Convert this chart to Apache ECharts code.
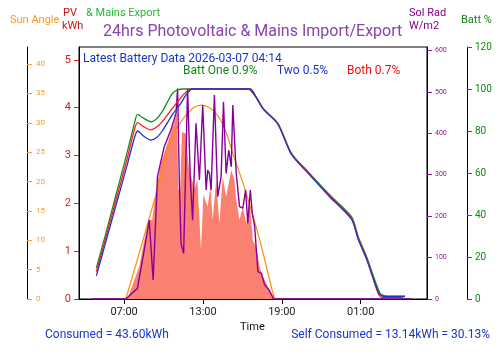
<!DOCTYPE html>
<html>
<head>
<meta charset="utf-8">
<script src="https://cdn.jsdelivr.net/npm/echarts@6/dist/echarts.min.js"></script>
<style>
  html, body { margin: 0; padding: 0; background: #fff; }
  #chart { width: 500px; height: 353px; }
</style>
</head>
<body>
<div id="chart"></div>
<script>
// time is hours from midnight of the first day (25 = 01:00 next day)
var timeTicks = [7, 13, 19, 25];
var pvTicks = [0, 1, 2, 3, 4, 5];
var sunTicks = [0, 5, 10, 15, 20, 25, 30, 35, 40];
var radTicks = [0, 100, 200, 300, 400, 500, 600];
var battTicks = [0, 20, 40, 60, 80, 100, 120];

// PV output, kW (salmon area)
var pvPower = [
  [7.25, 0], [8.15, 0.68], [8.53, 1.23], [8.91, 1.65], [9.14, 1.65], [9.37, 2.18],
  [9.8, 2.84], [10.31, 3.26], [10.82, 3.7], [11.02, 3.9], [11.12, 2.3], [11.26, 2.25],
  [11.4, 3.5], [11.7, 3.45], [11.9, 2.8], [12.04, 2.65], [12.34, 2.3], [12.57, 2.5],
  [12.85, 1.03], [13.03, 2.18], [13.36, 1.93], [13.56, 2.38], [13.74, 1.65], [14.0, 2.49],
  [14.25, 1.58], [14.5, 2.56], [14.76, 2.14], [15.15, 2.7], [15.4, 2.49], [15.53, 2.07],
  [15.78, 1.65], [16.03, 1.93], [16.29, 1.58], [16.54, 2.14], [16.79, 1.23], [17.05, 1.09],
  [17.31, 0.68], [17.56, 0.47], [17.94, 0.26], [18.32, 0.05], [18.58, 0]
];

// solar radiation, W/m2
var solRad = [
  [4.56, 0], [7.13, 0], [8.02, 26], [8.53, 118], [8.91, 190], [9.21, 46], [9.54, 296],
  [10.05, 367], [10.56, 408], [10.95, 448], [11.07, 508], [11.2, 287], [11.33, 134],
  [11.53, 110], [11.83, 508], [12.04, 287], [12.21, 190], [12.47, 424], [12.73, 287],
  [12.98, 468], [13.24, 263], [13.36, 311], [13.49, 303], [13.62, 263], [13.87, 492],
  [14.12, 247], [14.38, 295], [14.56, 475], [14.76, 303], [14.96, 359], [15.15, 319],
  [15.27, 468], [15.53, 303], [15.78, 223], [16.03, 219], [16.24, 263], [16.41, 183],
  [16.6, 263], [16.75, 207], [16.93, 175], [17.18, 66], [17.44, 62], [17.69, 34],
  [18.02, 22], [18.38, 0], [28.83, 0]
];

// sun elevation, degrees
var sunAngle = [
  [7.13, 0], [8.15, 7.8], [9.16, 15.7], [9.67, 19.8], [10.05, 23.7], [10.82, 28.2],
  [11.83, 31.6], [12.85, 33.0], [13.87, 31.9], [14.63, 29.1], [15.27, 24.8],
  [16.29, 18.0], [17.31, 10.1], [18.32, 1.0], [18.5, 0]
];

// battery state of charge, %
var battOne = [
  [4.89, 14.8], [5.6, 31], [6.4, 50], [7.2, 69], [7.8, 84], [8.02, 87.9], [8.5, 86],
  [9.04, 84.4], [9.5, 86], [9.9, 89.2], [10.4, 95], [10.69, 98], [11.07, 99.6],
  [11.5, 100], [16.41, 100], [16.92, 97.1], [17.56, 90.8], [18.7, 83.7], [19.73, 69.4],
  [20.99, 60.6], [22.65, 49.5], [24.3, 39.2], [24.81, 29.7], [25.45, 20.1],
  [26.47, 2.7], [26.98, 1.4], [28.37, 1.4]
];
var battTwo = [
  [4.89, 11], [5.6, 27], [6.4, 45], [7.2, 63], [7.8, 77], [8.02, 80], [8.5, 77.5],
  [9.04, 75.7], [9.5, 77], [9.9, 80], [10.7, 88], [11.3, 93], [11.8, 98], [12.2, 100],
  [16.6, 100], [17.0, 96.6], [17.6, 90.3], [18.7, 83.2], [19.73, 68.8], [21.0, 59.8],
  [22.65, 48.6], [24.3, 37.9], [24.81, 28.3], [25.45, 18.8], [26.4, 2.5], [26.8, 1.2],
  [28.37, 1.2]
];
var battBoth = [
  [4.89, 13], [5.6, 29], [6.4, 47.5], [7.2, 66], [7.8, 81], [8.02, 84], [8.5, 82],
  [9.04, 80.5], [9.5, 82], [9.9, 84.5], [10.7, 91], [11.4, 96.5], [11.9, 99.5],
  [12.3, 100], [16.5, 100], [16.95, 97], [17.6, 90.6], [18.7, 83.4], [19.73, 69.1],
  [21.0, 60.2], [22.65, 49], [24.3, 38.5], [24.81, 29], [25.45, 19.4], [26.3, 3],
  [26.6, 0.8], [28.2, 0.8]
];

var chart = echarts.init(document.getElementById('chart'));

function hhmm(v) {
  var h = Math.round(v) % 24;
  return (h < 10 ? '0' : '') + h + ':00';
}

function yAx(opts) {
  var c = opts.color;
  return {
    type: 'value',
    position: opts.position,
    offset: opts.offset,
    min: 0,
    max: opts.max,
    splitLine: { show: false },
    axisLine: { show: true, onZero: false, lineStyle: { color: '#000', width: 1 } },
    axisTick: {
      show: true, inside: !!opts.inside, length: 5,
      customValues: opts.ticks, lineStyle: { color: c }
    },
    axisLabel: {
      inside: !!opts.inside, margin: opts.margin, color: c,
      fontSize: opts.fontSize, fontFamily: 'Roboto',
      customValues: opts.ticks
    }
  };
}

var option = {
  animation: false,
  backgroundColor: '#fff',
  grid: {
    left: 79, right: 73, top: 47, bottom: 54,
    show: true, borderColor: '#000', borderWidth: 1, backgroundColor: 'transparent'
  },
  xAxis: {
    type: 'value',
    min: 3.57,
    max: 30.04,
    splitLine: { show: false },
    axisLine: { show: true, onZero: false, lineStyle: { color: '#000' } },
    axisTick: { show: true, length: 5, customValues: timeTicks, lineStyle: { color: '#000' } },
    axisLabel: {
      customValues: timeTicks, color: '#222', fontSize: 11, fontFamily: 'Roboto', margin: 8,
      formatter: hhmm
    }
  },
  yAxis: [
    yAx({ position: 'left', offset: 0, max: 5.27, ticks: pvTicks, color: '#cc2222', fontSize: 11, margin: 8 }),
    yAx({ position: 'left', offset: 52, max: 42.9, ticks: sunTicks, color: '#ff9922', fontSize: 8, margin: 9, inside: true }),
    yAx({ position: 'right', offset: 0, max: 608, ticks: radTicks, color: '#991199', fontSize: 7, margin: 8 }),
    yAx({ position: 'right', offset: 40, max: 120, ticks: battTicks, color: '#118811', fontSize: 10, margin: 8 })
  ],
  series: [
    {
      name: 'PV', type: 'line', yAxisIndex: 0, data: pvPower, showSymbol: false,
      lineStyle: { width: 0 }, areaStyle: { color: '#fa8072', opacity: 1 }, z: 1
    },
    {
      name: 'Sun Angle', type: 'line', yAxisIndex: 1, data: sunAngle, showSymbol: false,
      smooth: 0.4, lineStyle: { color: '#ff8c00', width: 1.2 }, z: 3
    },
    {
      name: 'Sol Rad', type: 'line', yAxisIndex: 2, data: solRad, showSymbol: false,
      lineStyle: { color: '#880099', width: 1.4 }, z: 4
    },
    {
      name: 'Batt One', type: 'line', yAxisIndex: 3, data: battOne, showSymbol: false,
      smooth: 0.25, lineStyle: { color: '#1e8a1e', width: 1.3 }, z: 5
    },
    {
      name: 'Both', type: 'line', yAxisIndex: 3, data: battBoth, showSymbol: false,
      smooth: 0.25, lineStyle: { color: '#ff1a1a', width: 1.3 }, z: 6
    },
    {
      name: 'Two', type: 'line', yAxisIndex: 3, data: battTwo, showSymbol: false,
      smooth: 0.25, lineStyle: { color: '#2233cc', width: 1.3 }, z: 7
    }
  ],
  graphic: [
    { type: 'text', left: 10, top: 15, style: { text: 'Sun Angle', fill: '#ff9922', font: '11px Roboto' } },
    { type: 'text', left: 63, top: 8, style: { text: 'PV', fill: '#cc1111', font: '11px Roboto' } },
    { type: 'text', left: 62, top: 21, style: { text: 'kWh', fill: '#cc1111', font: '11px Roboto' } },
    { type: 'text', left: 86, top: 8, style: { text: '& Mains Export', fill: '#22bb33', font: '11px Roboto' } },
    { type: 'text', left: 103, top: 24, style: { text: '24hrs Photovoltaic & Mains Import/Export', fill: '#8844aa', font: '16px Roboto' } },
    { type: 'text', left: 409, top: 8, style: { text: 'Sol Rad', fill: '#880088', font: '11px Roboto' } },
    { type: 'text', left: 409, top: 21, style: { text: 'W/m2', fill: '#880088', font: '11px Roboto' } },
    { type: 'text', left: 461, top: 15, style: { text: 'Batt %', fill: '#118811', font: '11px Roboto' } },
    { type: 'text', left: 83, top: 53, style: { text: 'Latest Battery Data 2026-03-07 04:14', fill: '#1a35c8', font: '12px Roboto' } },
    { type: 'text', left: 183, top: 65, style: { text: 'Batt One 0.9%', fill: '#118811', font: '12px Roboto' } },
    { type: 'text', left: 277, top: 65, style: { text: 'Two 0.5%', fill: '#1a35c8', font: '12px Roboto' } },
    { type: 'text', left: 347, top: 65, style: { text: 'Both 0.7%', fill: '#ee1111', font: '12px Roboto' } },
    { type: 'text', left: 240, top: 322, style: { text: 'Time', fill: '#111', font: '11px Roboto' } },
    { type: 'text', left: 45, top: 329, style: { text: 'Consumed = 43.60kWh', fill: '#1a35c8', font: '12px Roboto' } },
    { type: 'text', right: 10, top: 329, style: { text: 'Self Consumed = 13.14kWh = 30.13%', fill: '#1a35c8', font: '12px Roboto' } }
  ]
};

chart.setOption(option);
</script>
</body>
</html>
